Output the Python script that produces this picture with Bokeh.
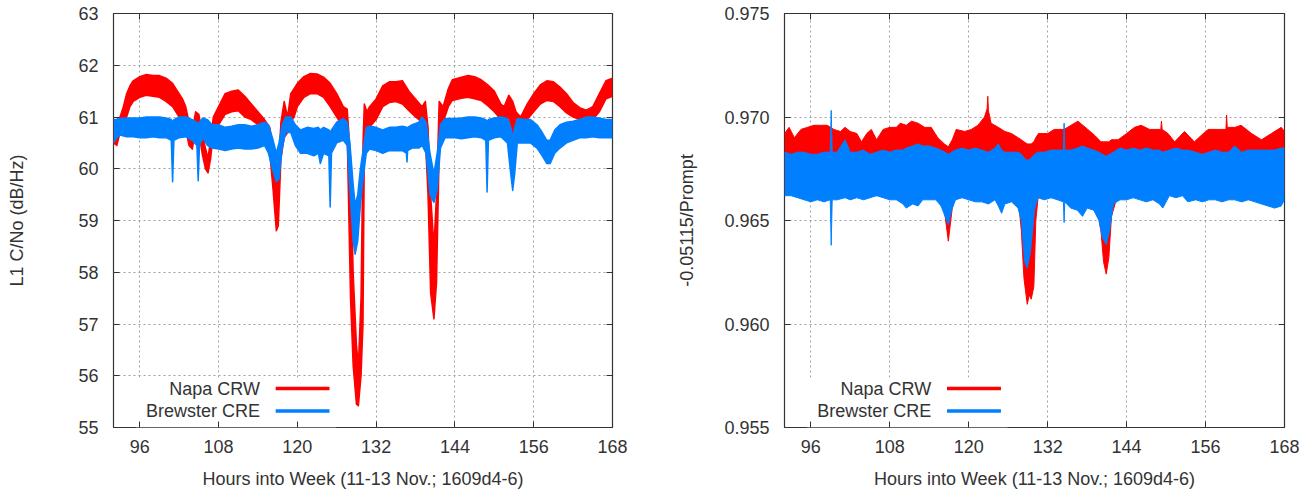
from bokeh.plotting import figure
from bokeh.layouts import row
from bokeh.models import (FixedTicker, BoxAnnotation, Label, LinearAxis, Range1d,
                          CustomJSTickFormatter, PrintfTickFormatter)
from bokeh.embed import file_html
from bokeh.resources import INLINE

# ---------------- data ----------------
series_names = ["Napa CRW", "Brewster CRE"]
hour_ticks = [96, 108, 120, 132, 144, 156, 168]
cn0_ticks = [55, 56, 57, 58, 59, 60, 61, 62, 63]
ratio_ticks = [0.955, 0.960, 0.965, 0.970, 0.975]

# Left panel: L1 C/No (dB/Hz), upper / lower envelope of the noisy trace
napa_cn0_hours = [92.0, 92.5, 93.0, 93.5, 94.0, 94.5, 95.0, 96.0, 97.0, 98.0,
                  99.0, 100.0, 101.0, 101.5, 102.0, 102.5, 103.0, 103.5, 104.0, 104.5,
                  105.0, 105.5, 106.0, 106.4, 106.8, 107.2, 108.0, 109.0, 110.0, 111.0,
                  112.0, 113.0, 114.0, 115.0, 115.8, 116.3, 116.8, 117.1, 117.5, 118.0,
                  118.5, 119.0, 119.5, 120.0, 121.0, 122.0, 123.0, 124.0, 125.0, 126.0,
                  127.0, 127.6, 128.1, 128.5, 129.0, 129.3, 129.7, 130.0, 130.2, 130.6,
                  131.0, 132.0, 133.0, 134.0, 135.0, 136.0, 137.0, 138.0, 139.0, 139.5,
                  139.9, 140.3, 140.8, 141.2, 141.6, 142.2, 143.0, 143.6, 145.0, 146.0,
                  147.0, 148.0, 149.0, 150.0, 151.0, 151.5, 152.2, 152.8, 153.3, 154.0,
                  155.0, 156.0, 157.0, 158.0, 159.0, 160.0, 161.0, 162.0, 163.0, 164.0,
                  165.0, 166.0, 167.0, 168.0]
napa_cn0_hi = [60.85, 60.95, 61.00, 61.20, 61.45, 61.60, 61.70, 61.78, 61.82, 61.80,
               61.80, 61.75, 61.65, 61.55, 61.45, 61.35, 61.20, 60.90, 60.70, 61.10,
               61.05, 60.70, 60.40, 60.20, 60.60, 61.00, 61.20, 61.45, 61.50, 61.52,
               61.40, 61.25, 61.10, 60.95, 60.80, 60.40, 59.90, 60.00, 60.90, 61.30,
               61.00, 61.45, 61.55, 61.65, 61.78, 61.84, 61.83, 61.77, 61.65, 61.45,
               61.20, 61.15, 60.20, 58.00, 56.60, 56.20, 57.50, 60.50, 61.25, 61.10,
               61.20, 61.35, 61.60, 61.68, 61.68, 61.70, 61.50, 61.35, 61.20, 61.30,
               60.80, 59.50, 58.50, 59.50, 61.30, 61.20, 61.55, 61.72, 61.77, 61.80,
               61.78, 61.72, 61.62, 61.50, 61.25, 61.20, 61.42, 61.30, 61.10, 61.00,
               61.25, 61.45, 61.62, 61.70, 61.68, 61.58, 61.45, 61.28, 61.18, 61.13,
               61.20, 61.45, 61.70, 61.75]
napa_cn0_lo = [60.50, 60.45, 60.70, 60.80, 61.00, 61.20, 61.30, 61.38, 61.42, 61.40,
               61.38, 61.30, 61.20, 61.10, 61.00, 60.90, 60.75, 60.45, 60.38, 60.75,
               60.70, 60.30, 60.00, 59.92, 60.20, 60.70, 60.85, 61.05, 61.10, 61.12,
               61.00, 60.95, 60.85, 60.60, 60.30, 59.60, 58.80, 58.90, 60.20, 60.60,
               60.70, 60.90, 61.00, 61.20, 61.38, 61.45, 61.45, 61.38, 61.20, 61.00,
               60.80, 60.60, 57.50, 56.20, 55.45, 55.42, 56.00, 57.00, 60.35, 60.60,
               60.80, 60.95, 61.20, 61.28, 61.30, 61.25, 61.12, 61.00, 60.90, 60.55,
               59.50, 57.60, 57.10, 57.80, 60.30, 60.90, 61.20, 61.32, 61.36, 61.38,
               61.35, 61.32, 61.22, 61.10, 60.95, 60.85, 61.00, 60.70, 60.50, 60.60,
               60.95, 61.10, 61.25, 61.32, 61.30, 61.20, 61.08, 61.00, 60.95, 60.93,
               60.95, 61.10, 61.35, 61.40]

brewster_cn0_hours = [92.0, 92.5, 93.0, 94.0, 95.0, 96.0, 97.0, 98.0, 99.0, 100.0,
                      100.8, 101.0, 101.2, 102.0, 103.0, 104.0, 104.7, 104.9, 105.1, 105.6,
                      106.3, 107.0, 108.0, 109.0, 110.0, 111.0, 112.0, 113.0, 114.0, 115.0,
                      115.6, 116.2, 116.8, 117.2, 117.7, 118.2, 119.0, 119.7, 120.5, 121.5,
                      122.5, 123.2, 123.5, 124.0, 124.8, 125.0, 125.2, 126.0, 127.0, 127.6,
                      128.0, 128.5, 128.8, 129.2, 129.6, 130.0, 130.5, 131.0, 132.0, 133.0,
                      134.0, 135.0, 136.0, 136.6, 136.7, 136.8, 137.5, 138.5, 139.0, 139.6,
                      140.2, 140.8, 141.3, 141.8, 142.5, 144.0, 145.0, 146.0, 147.0, 148.0,
                      148.7, 148.9, 149.1, 150.0, 151.0, 152.0, 152.5, 152.8, 153.1, 153.5,
                      154.5, 155.5, 156.5, 157.3, 158.0, 158.5, 159.2, 160.0, 161.0, 162.0,
                      163.0, 164.0, 165.0, 166.0, 167.0, 168.0]
brewster_cn0_hi = [60.95, 60.95, 60.97, 60.98, 60.98, 60.98, 61.00, 61.00, 61.00, 60.98,
                   60.95, 60.90, 60.95, 61.00, 61.00, 60.95, 60.90, 60.85, 60.90, 60.98,
                   60.95, 60.85, 60.85, 60.80, 60.82, 60.85, 60.85, 60.82, 60.85, 60.90,
                   60.85, 60.60, 60.30, 60.50, 60.85, 61.00, 61.00, 60.85, 60.75, 60.80,
                   60.78, 60.80, 60.75, 60.80, 60.75, 60.70, 60.75, 60.90, 60.97, 60.90,
                   60.50, 59.70, 59.30, 59.50, 60.00, 60.35, 60.80, 60.82, 60.80, 60.75,
                   60.80, 60.80, 60.82, 60.80, 60.75, 60.80, 60.85, 60.90, 61.00, 60.90,
                   60.30, 59.90, 60.30, 60.85, 60.97, 60.97, 60.98, 61.00, 61.00, 60.98,
                   60.95, 60.90, 60.95, 60.98, 61.00, 60.97, 60.80, 60.60, 60.80, 60.97,
                   60.95, 60.95, 60.85, 60.70, 60.55, 60.55, 60.75, 60.85, 60.90, 60.92,
                   60.95, 61.00, 61.00, 60.98, 60.95, 60.95]
brewster_cn0_lo = [60.50, 60.60, 60.65, 60.62, 60.62, 60.60, 60.60, 60.62, 60.60, 60.60,
                   60.55, 59.75, 60.55, 60.60, 60.62, 60.55, 60.45, 59.77, 60.45, 60.60,
                   60.45, 60.40, 60.38, 60.35, 60.38, 60.40, 60.38, 60.38, 60.40, 60.45,
                   60.30, 60.00, 59.75, 59.80, 60.40, 60.70, 60.70, 60.45, 60.30, 60.30,
                   60.25, 60.30, 60.10, 60.30, 60.25, 59.26, 60.30, 60.50, 60.55, 60.45,
                   59.60, 58.60, 58.35, 58.60, 59.30, 59.80, 60.30, 60.38, 60.35, 60.30,
                   60.35, 60.35, 60.35, 60.30, 60.13, 60.35, 60.40, 60.40, 60.45, 60.30,
                   59.50, 59.35, 59.60, 60.40, 60.60, 60.60, 60.58, 60.60, 60.62, 60.60,
                   60.55, 59.55, 60.55, 60.60, 60.62, 60.50, 59.90, 59.58, 59.90, 60.50,
                   60.50, 60.50, 60.40, 60.25, 60.10, 60.10, 60.30, 60.40, 60.50, 60.55,
                   60.60, 60.60, 60.62, 60.60, 60.60, 60.60]

# Right panel: -0.05115/Prompt, upper / lower envelope of the noisy trace
napa_ratio_hours = [92.0, 92.7, 93.5, 94.5, 95.5, 96.5, 97.5, 98.5, 99.5, 100.5,
                    101.2, 102.0, 103.0, 103.7, 104.5, 105.2, 106.0, 107.0, 108.0, 109.0,
                    109.6, 110.5, 111.3, 112.3, 113.3, 114.3, 115.3, 116.3, 116.9, 117.5,
                    118.1, 119.4, 120.4, 121.4, 122.4, 122.8, 122.9, 123.0, 123.4, 124.5,
                    125.5, 126.5, 127.5, 128.0, 128.4, 128.9, 129.2, 129.5, 129.9, 130.2,
                    130.6, 132.0, 133.0, 134.5, 136.6, 138.1, 139.2, 140.1, 140.5, 140.9,
                    141.3, 141.7, 142.7, 144.0, 145.2, 146.2, 147.5, 149.2, 149.3, 149.4,
                    150.3, 151.3, 152.8, 154.3, 155.3, 156.4, 158.0, 159.1, 159.2, 159.3,
                    160.5, 161.4, 163.0, 164.5, 166.0, 167.5, 168.0]
napa_ratio_hi = [0.9692, 0.9695, 0.9690, 0.9694, 0.9695, 0.9696, 0.9696, 0.9696, 0.9694, 0.9693,
                 0.9695, 0.9693, 0.9692, 0.9688, 0.9692, 0.9694, 0.9689, 0.9694, 0.9695, 0.9695,
                 0.9697, 0.9696, 0.9698, 0.9697, 0.9695, 0.9695, 0.9690, 0.9687, 0.96856, 0.9689,
                 0.9694, 0.9693, 0.9694, 0.9696, 0.9700, 0.9704, 0.9710, 0.9703, 0.9697, 0.9695,
                 0.9693, 0.9692, 0.9690, 0.9689, 0.9688, 0.9687, 0.9687, 0.9687, 0.9688, 0.9690,
                 0.9692, 0.9692, 0.9694, 0.9694, 0.9698, 0.9694, 0.9691, 0.9688, 0.9688, 0.9688,
                 0.9688, 0.9689, 0.9689, 0.9692, 0.9695, 0.9696, 0.9694, 0.9694, 0.9698, 0.9694,
                 0.9692, 0.9688, 0.9693, 0.9688, 0.9691, 0.9694, 0.9694, 0.9694, 0.9701, 0.9695,
                 0.9695, 0.9696, 0.9692, 0.9689, 0.9692, 0.9695, 0.9693]
napa_ratio_lo = [0.9663, 0.9663, 0.9663, 0.9663, 0.9663, 0.9663, 0.9663, 0.9663, 0.9663, 0.9663,
                 0.9663, 0.9663, 0.9663, 0.9663, 0.9663, 0.9663, 0.9662, 0.9663, 0.9663, 0.9663,
                 0.9663, 0.9662, 0.9662, 0.9662, 0.9663, 0.9663, 0.9662, 0.9655, 0.9640, 0.9656,
                 0.9663, 0.9663, 0.9663, 0.9663, 0.9663, 0.9663, 0.9663, 0.9663, 0.9663, 0.9663,
                 0.9663, 0.9663, 0.9662, 0.9645, 0.9622, 0.96095, 0.9614, 0.9612, 0.9618, 0.9650,
                 0.9663, 0.9663, 0.9663, 0.9663, 0.9663, 0.9663, 0.9662, 0.9645, 0.9630, 0.96241,
                 0.9632, 0.9652, 0.9663, 0.9663, 0.9663, 0.9663, 0.9663, 0.9663, 0.9663, 0.9663,
                 0.9663, 0.9663, 0.9663, 0.9663, 0.9663, 0.9663, 0.9663, 0.9663, 0.9663, 0.9663,
                 0.9663, 0.9663, 0.9663, 0.9663, 0.9663, 0.9663, 0.9663]

brewster_ratio_hours = [92.0, 93.0, 94.0, 95.0, 96.0, 97.0, 98.0, 98.95, 99.1, 99.25,
                        100.0, 101.2, 102.0, 103.0, 104.0, 105.0, 106.0, 107.0, 108.0, 109.0,
                        110.0, 110.5, 111.5, 112.3, 113.0, 114.0, 115.0, 115.8, 116.4, 116.9,
                        117.4, 118.0, 119.0, 120.0, 121.0, 122.0, 123.0, 124.0, 124.5, 125.0,
                        125.5, 126.5, 127.5, 128.0, 128.5, 128.9, 129.4, 130.0, 130.5, 131.5,
                        132.5, 133.5, 134.4, 134.5, 134.6, 135.5, 136.5, 137.3, 138.0, 139.0,
                        139.8, 140.3, 140.9, 141.4, 142.0, 143.0, 144.0, 145.0, 146.0, 147.0,
                        148.0, 149.0, 149.5, 150.5, 151.5, 152.5, 153.3, 154.5, 155.5, 156.5,
                        157.5, 158.5, 159.5, 160.4, 161.5, 162.5, 163.5, 164.5, 165.5, 166.5,
                        167.5, 168.0]
brewster_ratio_hi = [0.9683, 0.9682, 0.9683, 0.9683, 0.9682, 0.9682, 0.9683, 0.9683, 0.97032, 0.9683,
                     0.9683, 0.9689, 0.9683, 0.9683, 0.9684, 0.9682, 0.9683, 0.9684, 0.9683, 0.9684,
                     0.9684, 0.9685, 0.9686, 0.9687, 0.9686, 0.9686, 0.9685, 0.9684, 0.9683, 0.9682,
                     0.9683, 0.9684, 0.9685, 0.9684, 0.9685, 0.9684, 0.9683, 0.9685, 0.9687, 0.9684,
                     0.9683, 0.9683, 0.9683, 0.9682, 0.9680, 0.9679, 0.9680, 0.9682, 0.9683, 0.9683,
                     0.9684, 0.9684, 0.9684, 0.9697, 0.9684, 0.9684, 0.9685, 0.9686, 0.9685, 0.9684,
                     0.9683, 0.9682, 0.9681, 0.9682, 0.9683, 0.9685, 0.9684, 0.9685, 0.9684, 0.9685,
                     0.9684, 0.9684, 0.9683, 0.9684, 0.9685, 0.9684, 0.9684, 0.9683, 0.9682, 0.9683,
                     0.9684, 0.9683, 0.9683, 0.9686, 0.9683, 0.9684, 0.9684, 0.9684, 0.9684, 0.9684,
                     0.9685, 0.9685]
brewster_ratio_lo = [0.9662, 0.9662, 0.9661, 0.9660, 0.9659, 0.9660, 0.9659, 0.9660, 0.9638, 0.9660,
                     0.9660, 0.9661, 0.9660, 0.9661, 0.9660, 0.9661, 0.9662, 0.9661, 0.9660, 0.9660,
                     0.9658, 0.9656, 0.9658, 0.9657, 0.9660, 0.9660, 0.9660, 0.9657, 0.9652, 0.96479,
                     0.9655, 0.9660, 0.9661, 0.9660, 0.9659, 0.9659, 0.9658, 0.9660, 0.9657, 0.96535,
                     0.9658, 0.9659, 0.9656, 0.9650, 0.9630, 0.96271, 0.9635, 0.9655, 0.9661, 0.9660,
                     0.9661, 0.9660, 0.9659, 0.9649, 0.9659, 0.9656, 0.9655, 0.9652, 0.9656, 0.9655,
                     0.9650, 0.9642, 0.96383, 0.9645, 0.9658, 0.9660, 0.9660, 0.9661, 0.9660, 0.9659,
                     0.9660, 0.9658, 0.9656, 0.9662, 0.9661, 0.9662, 0.9659, 0.9660, 0.9659, 0.9660,
                     0.9660, 0.9659, 0.9660, 0.9660, 0.9659, 0.9660, 0.9659, 0.9658, 0.9657, 0.9656,
                     0.9657, 0.9660]

# ---------------- styling ----------------
FONT = "Liberation Sans"
FS = "18px"
TEXT = "#333333"
COLORS = ["#ff0000", "#0080ff"]
X_MIN, X_MAX = 92, 168


def make_panel(width, b_left, b_right, b_top, y_lo, y_hi, y_ticks, y_fmt,
               y_label, y_label_standoff, series, edge_w):
    p = figure(width=width, height=495,
               x_range=Range1d(X_MIN, X_MAX), y_range=Range1d(y_lo, y_hi),
               output_backend="svg", toolbar_location=None,
               min_border_left=b_left, min_border_right=b_right,
               min_border_top=b_top, min_border_bottom=68,
               background_fill_color="white", border_fill_color="white")
    p.outline_line_color = "#333333"
    p.outline_line_width = 1.2

    xt = FixedTicker(ticks=hour_ticks)
    yt = FixedTicker(ticks=y_ticks)
    p.xaxis.ticker = xt
    p.yaxis.ticker = yt
    p.yaxis.formatter = y_fmt
    p.xaxis.axis_label = "Hours into Week (11-13 Nov.; 1609d4-6)"
    p.yaxis.axis_label = y_label
    for ax in (p.xaxis[0], p.yaxis[0]):
        ax.axis_line_color = None
        ax.major_tick_in = 6
        ax.major_tick_out = 0
        ax.major_tick_line_color = "#333333"
        ax.minor_tick_line_color = None
        ax.major_label_text_font = FONT
        ax.major_label_text_font_size = FS
        ax.major_label_text_color = TEXT
        ax.axis_label_text_font = FONT
        ax.axis_label_text_font_size = FS
        ax.axis_label_text_font_style = "normal"
        ax.axis_label_text_color = TEXT
    p.xaxis.major_label_standoff = 12
    p.xaxis.axis_label_standoff = 13
    p.yaxis.major_label_standoff = 15
    p.yaxis.axis_label_standoff = y_label_standoff

    # mirrored inward ticks (gnuplot style)
    blank = CustomJSTickFormatter(code="return ''")
    top = LinearAxis(ticker=FixedTicker(ticks=hour_ticks), formatter=blank,
                     major_tick_in=6, major_tick_out=0, major_label_standoff=0,
                     minor_tick_line_color=None, axis_line_color=None,
                     major_tick_line_color="#333333", major_label_text_font_size="1px")
    right = LinearAxis(ticker=FixedTicker(ticks=y_ticks), formatter=blank,
                       major_tick_in=6, major_tick_out=0, major_label_standoff=0,
                       minor_tick_line_color=None, axis_line_color=None,
                       major_tick_line_color="#333333", major_label_text_font_size="1px")
    p.add_layout(top, "above")
    p.add_layout(right, "right")

    p.xgrid.ticker = xt
    p.ygrid.ticker = yt
    for g in (p.xgrid[0], p.ygrid[0]):
        g.grid_line_color = "#a0a0a0"
        g.grid_line_dash = "2 3"
        g.grid_line_width = 1

    # legend background (hides grid like gnuplot's opaque key)
    y_span = y_hi - y_lo
    px_per_unit = 414.0 / y_span
    box = BoxAnnotation(left=95.4, right=125.9, bottom=y_lo,
                        top=y_lo + 50.0 / px_per_unit,
                        fill_color="white", fill_alpha=1.0, line_color=None,
                        level="underlay")
    p.add_layout(box)

    for i, (name, color, hrs, hi, lo) in enumerate(series):
        p.varea(x=hrs, y1=lo, y2=hi, fill_color=color, fill_alpha=1.0)
        p.line(hrs, hi, line_color=color, line_width=edge_w, line_join="round")
        p.line(hrs, lo, line_color=color, line_width=edge_w, line_join="round")

        ly = y_lo + (39.0 - 22.5 * i) / px_per_unit
        p.add_layout(Label(x=114.3, y=ly, text=name, text_align="right",
                           text_baseline="middle", text_font=FONT,
                           text_font_size=FS, text_color=TEXT))
        half = 1.8 / px_per_unit
        p.add_layout(BoxAnnotation(left=116.7, right=124.9, bottom=ly - half,
                                   top=ly + half, fill_color=color,
                                   fill_alpha=1.0, line_color=None))
    return p


left_series = [(series_names[0], COLORS[0], napa_cn0_hours, napa_cn0_hi, napa_cn0_lo),
               (series_names[1], COLORS[1], brewster_cn0_hours, brewster_cn0_hi, brewster_cn0_lo)]
right_series = [(series_names[0], COLORS[0], napa_ratio_hours, napa_ratio_hi, napa_ratio_lo),
                (series_names[1], COLORS[1], brewster_ratio_hours, brewster_ratio_hi, brewster_ratio_lo)]

p1 = make_panel(650, 113, 38, 13, 55, 63, cn0_ticks, PrintfTickFormatter(format="%d"),
                "L1 C/No (dB/Hz)", 48, left_series, 1.5)
p2 = make_panel(661, 134, 27, 12, 0.955, 0.975, ratio_ticks, PrintfTickFormatter(format="%.3f"),
                "-0.05115/Prompt", 24, right_series, 1.0)

layout = row(p1, p2)
open("out.html", "w").write(file_html(layout, INLINE))
